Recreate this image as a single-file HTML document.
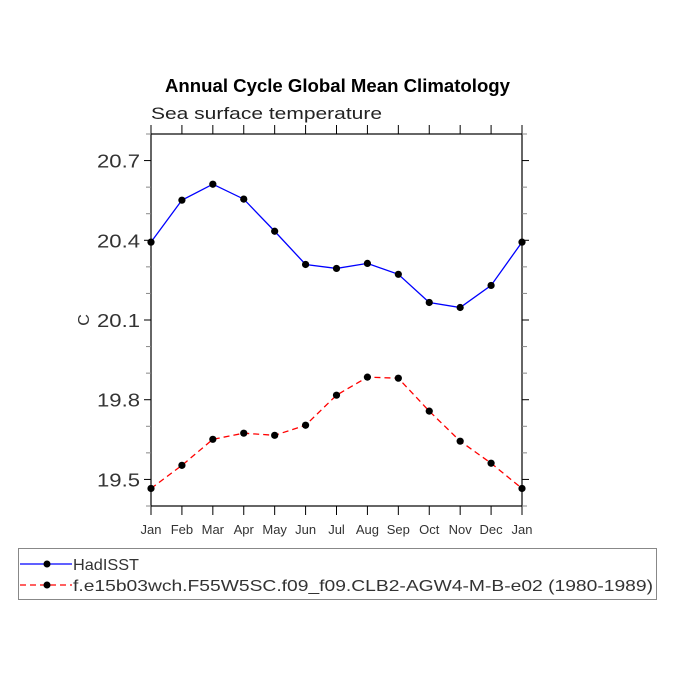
<!DOCTYPE html>
<html><head><meta charset="utf-8"><style>body{margin:0;background:#fff}svg{display:block}</style></head>
<body>
<svg id="chart" width="675" height="675" xmlns="http://www.w3.org/2000/svg" font-family="Liberation Sans, sans-serif">
<rect width="675" height="675" fill="#fff"/>
<text x="165" y="92" font-weight="bold" font-size="18" textLength="345" lengthAdjust="spacingAndGlyphs">Annual Cycle Global Mean Climatology</text>
<text x="151" y="119" font-size="17" fill="#222" textLength="231" lengthAdjust="spacingAndGlyphs">Sea surface temperature</text>
<text transform="translate(89,320) rotate(-90)" text-anchor="middle" font-size="16" fill="#333">C</text>
<g id="axes"></g>
<g id="series"></g>
<g>
<rect x="18.5" y="548.5" width="638" height="51" fill="none" stroke="#888"/>
<line x1="20" y1="564" x2="72" y2="564" stroke="#00f" stroke-width="1.2"/>
<circle cx="47" cy="564" r="3.5"/>
<text x="73" y="570" font-size="16" fill="#333" textLength="66" lengthAdjust="spacingAndGlyphs">HadISST</text>
<line x1="20" y1="585" x2="72" y2="585" stroke="#f00" stroke-width="1.2" stroke-dasharray="6,4"/>
<circle cx="47" cy="585" r="3.5"/>
<text x="73" y="591" font-size="16" fill="#333" textLength="580" lengthAdjust="spacingAndGlyphs">f.e15b03wch.F55W5SC.f09_f09.CLB2-AGW4-M-B-e02 (1980-1989)</text>
</g>
</svg>
<script>
const months = ["Jan","Feb","Mar","Apr","May","Jun","Jul","Aug","Sep","Oct","Nov","Dec","Jan"];
const hadisst = [20.393,20.551,20.611,20.555,20.434,20.309,20.294,20.313,20.272,20.166,20.147,20.230,20.393];
const model = [19.466,19.553,19.651,19.674,19.666,19.704,19.817,19.885,19.881,19.757,19.644,19.561,19.466];
const yTicks = [19.5,19.8,20.1,20.4,20.7];
const yTickLabels = ["19.5","19.8","20.1","20.4","20.7"];
const L=151,R=522,T=134,B=506,YMIN=19.4,YMAX=20.8;
const NS="http://www.w3.org/2000/svg";
const xs=i=>L+(R-L)*i/(months.length-1);
const ys=v=>B-(v-YMIN)/(YMAX-YMIN)*(B-T);
function mk(tag,attrs,parent){const e=document.createElementNS(NS,tag);for(const k in attrs)e.setAttribute(k,attrs[k]);parent.appendChild(e);return e;}
const ax=document.getElementById('axes');
const frame=mk('rect',{x:L,y:T,width:R-L,height:B-T,fill:'none',stroke:'#000','stroke-width':1.2},ax);


months.forEach((m,i)=>{
  const x=xs(i);
  mk('line',{x1:x,y1:B,x2:x,y2:B+9,stroke:'#000'},ax);
  mk('line',{x1:x,y1:T,x2:x,y2:T-9,stroke:'#000'},ax);
  const t=mk('text',{x:x,y:B+28,'text-anchor':'middle','font-size':13,fill:'#333'},ax);
  t.textContent=m;
  
  
});
for(let k=0;k<=14;k++){
  const v=YMIN+k*0.1;const y=ys(v);
  const major=yTicks.some(t=>Math.abs(t-v)<1e-6);
  const len=major?7:5;
  mk('line',{x1:L,y1:y,x2:L-len,y2:y,stroke:major?'#000':'#888'},ax);
  mk('line',{x1:R,y1:y,x2:R+len,y2:y,stroke:major?'#000':'#888'},ax);
}
yTicks.forEach((v,i)=>{
  const t=mk('text',{x:97,y:ys(v)+7,'font-size':18,fill:'#333',textLength:43,lengthAdjust:'spacingAndGlyphs'},ax);
  t.textContent=yTickLabels[i];
  
  
});
const sg=document.getElementById('series');
function series(vals,color,dash,name){
  const p=mk('polyline',{points:vals.map((v,i)=>xs(i)+','+ys(v)).join(' '),fill:'none',stroke:color,'stroke-width':1.3,'stroke-dasharray':dash},sg);
  
  
  vals.forEach((v,i)=>{
    const c=mk('circle',{cx:xs(i),cy:ys(v),r:3.6,fill:'#000'},sg);
    
    
  });
}
series(hadisst,'#00f','none','hadisst');
series(model,'#f00','6,4','model');
</script>
</body></html>
